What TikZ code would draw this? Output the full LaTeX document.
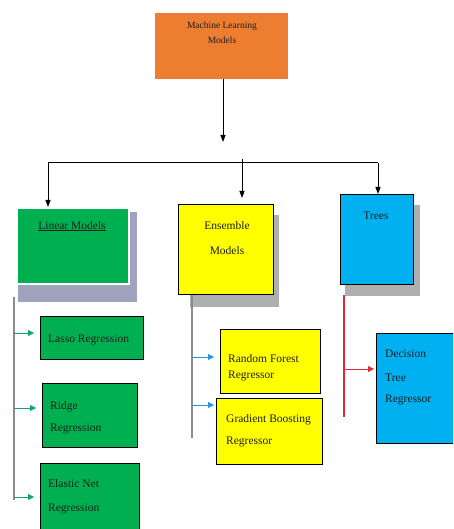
\documentclass[tikz,border=0pt]{standalone}
\usepackage{fontspec}
\setmainfont{Liberation Serif}
\usetikzlibrary{arrows.meta,calc}
\definecolor{orangebox}{RGB}{237,125,49}
\definecolor{greenbox}{RGB}{0,176,80}
\definecolor{yellowbox}{RGB}{255,255,0}
\definecolor{bluebox}{RGB}{0,176,240}
\definecolor{shadowgray}{RGB}{175,175,175}
\definecolor{shadowblue}{RGB}{160,163,190}
\definecolor{tealarrow}{RGB}{20,160,120}
\definecolor{bluearrow}{RGB}{40,150,220}
\definecolor{redarrow}{RGB}{225,40,60}
\definecolor{linegray}{RGB}{140,140,140}
\definecolor{txtcol}{RGB}{30,30,30}
\tikzset{
  x=1pt, y=-1pt,
  box/.style={draw=black, line width=0.8pt, anchor=north west, inner sep=0pt},
  txt/.style={font=\fontsize{11.5}{14}\selectfont, text=txtcol, inner sep=0pt, anchor=base west},
  ctxt/.style={font=\fontsize{11.5}{14}\selectfont, text=txtcol, inner sep=0pt, anchor=base},
  blk/.style={-{Triangle[width=5pt,length=7pt]}, line width=1pt, black},
  tarr/.style={-{Triangle[width=6pt,length=6pt]}, line width=0.8pt, tealarrow},
  barr/.style={-{Triangle[width=6pt,length=6pt]}, line width=0.8pt, bluearrow},
  rarr/.style={-{Triangle[width=6pt,length=6pt]}, line width=0.8pt, redarrow},
}
\begin{document}
\begin{tikzpicture}
\clip (0,0) rectangle (453,529);
\fill[white] (0,0) rectangle (453,529);

% top box
\node[box, draw=orangebox, fill=orangebox, minimum width=132pt, minimum height=65pt] (top) at (155,13) {};
\node[ctxt, font=\fontsize{9.5}{12}\selectfont] (toptxta) at (222,29) {Machine Learning};
\node[ctxt, font=\fontsize{9.5}{12}\selectfont] (toptxtb) at (222,44) {Models};

% shadows
\fill[shadowblue] (18,212) rectangle (137,302);
\fill[shadowgray] (190,215) rectangle (279,307);
\fill[shadowgray] (345,205) rectangle (420,296);

% level 1
\node[box, fill=greenbox, draw=white, line width=1.5pt, minimum width=112pt, minimum height=76pt] (lin) at (16,207) {};
\node[ctxt] (lintxt) at (72,229) {\underline{Linear Models}};
\node[box, fill=yellowbox, minimum width=95pt, minimum height=90pt] (ens) at (178,204) {};
\node[ctxt] (enstxta) at (227,229) {Ensemble};
\node[ctxt] (enstxtb) at (227,254) {Models};
\node[box, fill=bluebox, minimum width=73pt, minimum height=90pt] (tre) at (340,194) {};
\node[ctxt] (tretxt) at (376,219) {Trees};

% top connectors
\coordinate (topend) at (223,142);
\draw[blk] (top.south -| topend) -- (topend);
\coordinate (hl) at (48,163);
\coordinate (hr) at (378,163);
\coordinate (hm) at (242,159);
\draw[line width=1pt] (hl) -- (hr);
\draw[blk] (hl) -- (lin.north -| hl);
\draw[blk] (hm) -- ($(ens.north -| hm)+(0,-6)$);
\draw[blk] (hr) -- (tre.north -| hr);

% linear children
\node[box, fill=greenbox, minimum width=103pt, minimum height=43pt] (lasso) at (40,316) {};
\node[txt] (lassotxt) at (48,342) {Lasso Regression};
\node[box, fill=greenbox, minimum width=95pt, minimum height=64pt] (ridge) at (42,383) {};
\node[txt] (ridgetxta) at (50,409) {Ridge};
\node[txt] (ridgetxtb) at (50,431) {Regression};
\node[box, fill=greenbox, minimum width=99pt, minimum height=80pt] (elastic) at (40,463) {};
\node[txt] (elastictxta) at (48,487) {Elastic Net};
\node[txt] (elastictxtb) at (48,511) {Regression};

\coordinate (lt) at (14,297);
\coordinate (lb) at (14,500);
\draw[linegray, line width=1.2pt] (lt) -- (lb);
\draw[tarr] (14,333) -- ($(lasso.west |- 0,333)+(-6,0)$);
\draw[tarr] (14,408) -- ($(ridge.west |- 0,408)+(-6,0)$);
\draw[tarr] (14,497) -- ($(elastic.west |- 0,497)+(-6,0)$);

% ensemble children
\node[box, fill=yellowbox, minimum width=100pt, minimum height=64pt] (rf) at (220,329) {};
\node[txt] (rftxta) at (228,362) {Random Forest};
\node[txt] (rftxtb) at (228,378) {Regressor};
\node[box, fill=yellowbox, minimum width=106pt, minimum height=66pt] (gb) at (216,398) {};
\node[txt] (gbtxta) at (226,422) {Gradient Boosting};
\node[txt] (gbtxtb) at (226,444) {Regressor};

\coordinate (et) at (192,295);
\coordinate (eb) at (192,438);
\draw[linegray, line width=1.2pt] (et) -- (eb);
\draw[barr] (192,357) -- ($(rf.west |- 0,357)+(-6,0)$);
\draw[barr] (192,405) -- ($(gb.west |- 0,405)+(-2,0)$);

% trees children
\node[box, fill=bluebox, minimum width=80pt, minimum height=110pt] (dt) at (376,333) {};
\node[txt] (dttxta) at (385,357) {Decision};
\node[txt] (dttxtb) at (385,381) {Tree};
\node[txt] (dttxtc) at (385,402) {Regressor};

\coordinate (tt) at (344,295);
\coordinate (tb) at (344,417);
\draw[redarrow, line width=1.5pt] (tt) -- (tb);
\draw[rarr] (344,369) -- ($(dt.west |- 0,369)+(-2,0)$);
\end{tikzpicture}
\end{document}
